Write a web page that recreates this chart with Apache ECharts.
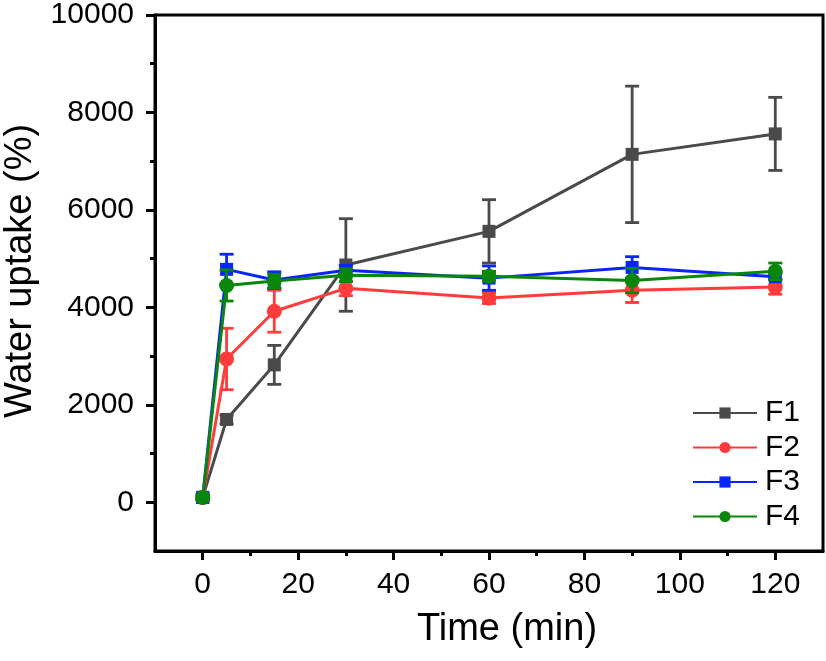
<!DOCTYPE html>
<html><head><meta charset="utf-8">
<script src="https://cdn.jsdelivr.net/npm/echarts@6/dist/echarts.min.js"></script>
<style>html,body{margin:0;padding:0;background:#fff}#c{width:826px;height:661px}</style>
</head><body><div id="c"></div>
<script>
const times = [0, 5, 15, 30, 60, 90, 120];
const F1 = [100, 1700, 2820, 4870, 5560, 7140, 7560];
const F1err = [60, 90, 400, 950, 650, 1400, 750];
const F2 = [100, 2940, 3920, 4390, 4190, 4350, 4420];
const F2err = [50, 630, 430, 150, 110, 250, 150];
const F3 = [100, 4780, 4560, 4760, 4600, 4820, 4630];
const F3err = [50, 310, 170, 100, 250, 220, 60];
const F4 = [100, 4450, 4540, 4660, 4640, 4550, 4740];
const F4err = [50, 320, 140, 130, 100, 250, 170];
const xMajor = [0, 20, 40, 60, 80, 100, 120];
const xMinor = [10, 30, 50, 70, 90, 110];
const yMajor = [0, 2000, 4000, 6000, 8000, 10000];
const yMinor = [1000, 3000, 5000, 7000, 9000];

const names = ['F1', 'F2', 'F3', 'F4'];
const vals = [F1, F2, F3, F4];
const errs = [F1err, F2err, F3err, F4err];
const colors = ['#4a4a4a', '#ff3b3b', '#0a24ff', '#0a870a'];
const symbols = ['rect', 'circle', 'rect', 'circle'];
const FONT = 'Liberation Sans';

const chart = echarts.init(document.getElementById('c'), null, {renderer: 'canvas'});
const series = [];
names.forEach((n, i) => {
  const col = colors[i];
  series.push({
    name: n + ' err', type: 'custom', xAxisIndex: 0, yAxisIndex: 0, z: 2 + i * 2,
    data: times.map((t, k) => [t, vals[i][k] - errs[i][k], vals[i][k] + errs[i][k]]),
    encode: {x: 0, y: [1, 2]},
    renderItem: function (params, api) {
      const lo = api.coord([api.value(0), api.value(1)]);
      const hi = api.coord([api.value(0), api.value(2)]);
      const cap = 7;
      const st = {stroke: col, lineWidth: 2.8};
      return {type: 'group', children: [
        {type: 'line', shape: {x1: lo[0], y1: lo[1], x2: hi[0], y2: hi[1]}, style: st},
        {type: 'line', shape: {x1: lo[0] - cap, y1: lo[1], x2: lo[0] + cap, y2: lo[1]}, style: st},
        {type: 'line', shape: {x1: hi[0] - cap, y1: hi[1], x2: hi[0] + cap, y2: hi[1]}, style: st}
      ]};
    },
    silent: true
  });
  series.push({
    name: n, type: 'line', xAxisIndex: 0, yAxisIndex: 0, z: 3 + i * 2,
    data: times.map((t, k) => [t, vals[i][k]]),
    symbol: symbols[i], symbolSize: symbols[i] === 'rect' ? 13 : 15,
    showAllSymbol: true,
    lineStyle: {color: col, width: 3},
    itemStyle: {color: col},
    animation: false
  });
});

const axisLineStyle = {color: '#000', width: 3};
const plain = v => String(v);
chart.setOption({
  animation: false,
  grid: {left: 155, right: 3, top: 15, bottom: 110, show: true, borderColor: '#000', borderWidth: 3,
         containLabel: false, outerBoundsMode: 'none'},
  legend: {
    data: names, orient: 'vertical', left: 692, top: 398, padding: 0,
    itemWidth: 64, itemHeight: 14, itemGap: 4.5,
    textStyle: {fontFamily: FONT, fontSize: 30, color: '#000', lineHeight: 30, padding: [0, 0, 0, 3]}
  },
  xAxis: [{
    type: 'value', min: -10, max: 130, position: 'bottom',
    name: 'Time (min)', nameLocation: 'middle', nameGap: 60,
    nameTextStyle: {fontFamily: FONT, fontSize: 38, color: '#000', padding: [0, 0, 0, 36]},
    axisLine: {show: true, onZero: false, lineStyle: axisLineStyle},
    axisTick: {show: true, length: 9, lineStyle: {color: '#000', width: 3}, customValues: xMajor},
    axisLabel: {fontFamily: FONT, fontSize: 30, color: '#000', margin: 19, customValues: xMajor, formatter: plain},
    splitLine: {show: false}
  }, {
    type: 'value', min: -10, max: 130, position: 'bottom', gridIndex: 0,
    axisLine: {show: false, onZero: false},
    axisTick: {show: true, length: 5, lineStyle: {color: '#000', width: 3}, customValues: xMinor},
    axisLabel: {show: false, customValues: xMinor},
    splitLine: {show: false}
  }],
  yAxis: [{
    type: 'value', min: -1000, max: 10000, position: 'left',
    name: 'Water uptake (%)', nameLocation: 'middle', nameGap: 112,
    nameTextStyle: {fontFamily: FONT, fontSize: 38, color: '#000', padding: [0, 0, 0, 24]},
    axisLine: {show: true, onZero: false, lineStyle: axisLineStyle},
    axisTick: {show: true, length: 9, lineStyle: {color: '#000', width: 3}, customValues: yMajor},
    axisLabel: {fontFamily: FONT, fontSize: 30, color: '#000', margin: 21, customValues: yMajor, formatter: plain},
    splitLine: {show: false}
  }, {
    type: 'value', min: -1000, max: 10000, gridIndex: 0, position: 'left',
    axisLine: {show: false, onZero: false},
    axisTick: {show: true, length: 5, lineStyle: {color: '#000', width: 3}, customValues: yMinor},
    axisLabel: {show: false, customValues: yMinor},
    splitLine: {show: false}
  }],
  series: series
});
</script>
</body></html>
